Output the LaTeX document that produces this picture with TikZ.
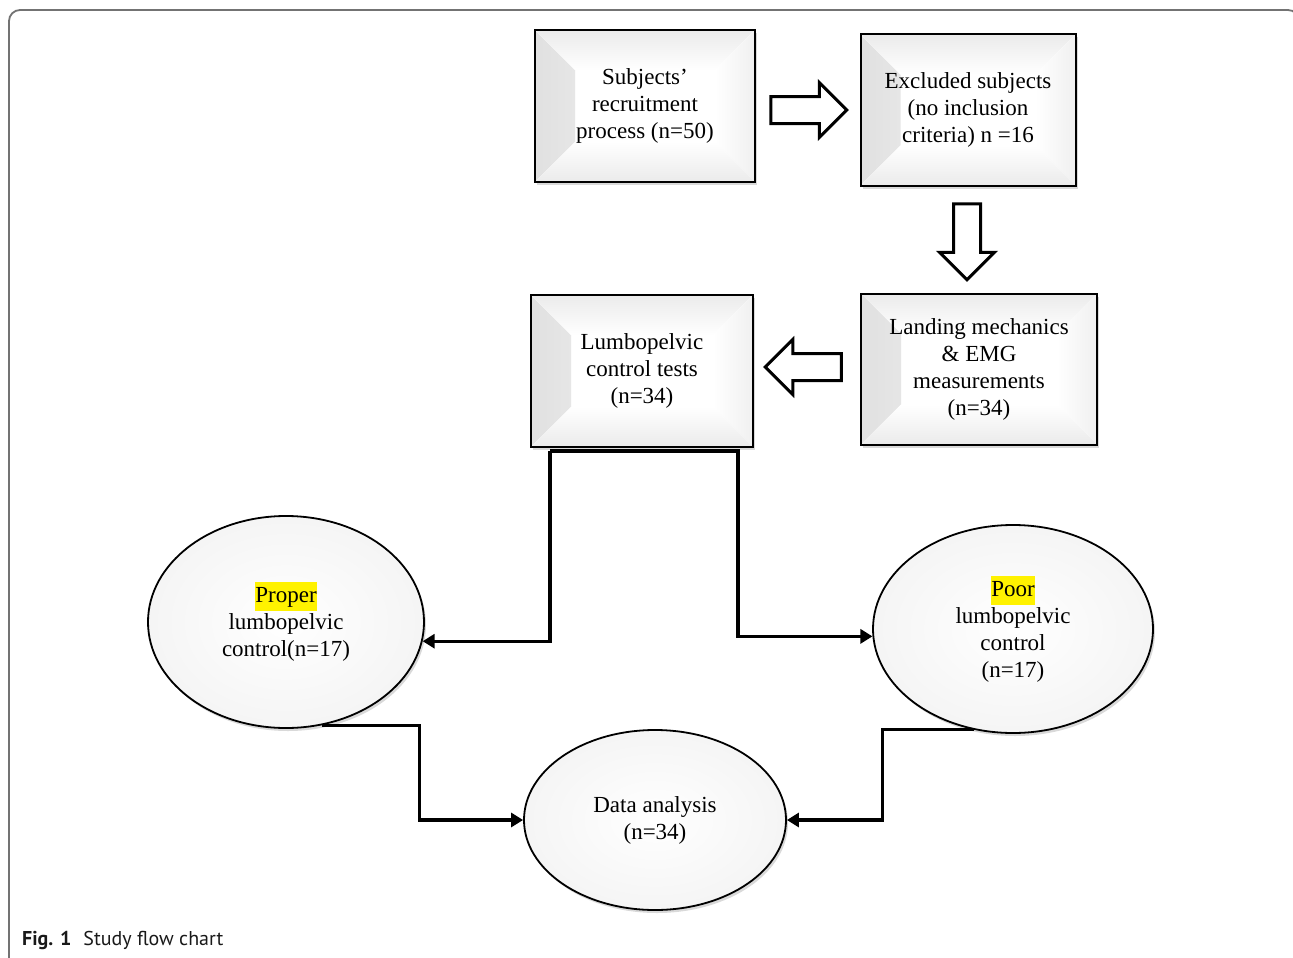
\documentclass[tikz,border=0pt]{standalone}
\usepackage{fontspec}
\setmainfont{Liberation Serif}
\newfontfamily\capfont{PT Sans}
\usetikzlibrary{shapes.geometric,shapes.arrows,shadows,arrows.meta}
\setlength{\fboxsep}{0.5pt}

\newcommand{\hlword}[1]{\colorbox{yellow}{\rule[-8pt]{0pt}{28pt}#1}}
\newcommand{\boxbevel}{%
    \fill[left color=black!12,right color=white] (path picture bounding box.north west) -- (path picture bounding box.south west) -- ([shift={(40pt,40pt)}]path picture bounding box.south west) -- ([shift={(40pt,-40pt)}]path picture bounding box.north west) -- cycle;
    \fill[top color=black!8,bottom color=white] (path picture bounding box.north west) -- (path picture bounding box.north east) -- ([shift={(-40pt,-40pt)}]path picture bounding box.north east) -- ([shift={(40pt,-40pt)}]path picture bounding box.north west) -- cycle;
    \fill[right color=black!6,left color=white] (path picture bounding box.north east) -- (path picture bounding box.south east) -- ([shift={(-40pt,40pt)}]path picture bounding box.south east) -- ([shift={(-40pt,-40pt)}]path picture bounding box.north east) -- cycle;
    \fill[bottom color=black!8,top color=white] (path picture bounding box.south west) -- (path picture bounding box.south east) -- ([shift={(-40pt,40pt)}]path picture bounding box.south east) -- ([shift={(40pt,40pt)}]path picture bounding box.south west) -- cycle;
}

\begin{document}
\begin{tikzpicture}[x=1pt, y=-1pt,
    box/.style={rectangle, draw, line width=2pt, fill=white, align=center,
        font=\fontsize{23}{27}\selectfont, path picture={\boxbevel},
        drop shadow={opacity=0.3, shadow xshift=2pt, shadow yshift=-3pt}},
    oval/.style={ellipse, draw, line width=1.8pt, inner color=white, outer color=black!4,
        align=center, font=\fontsize{23}{27}\selectfont, inner sep=0pt,
        drop shadow={opacity=0.3, shadow xshift=2pt, shadow yshift=-3pt}},
    blockarrow/.style={single arrow, draw, line width=3pt, fill=white, inner sep=12pt,
        single arrow head extend=14pt, minimum height=76pt},
    flow/.style={line width=3.2pt, -{Triangle[length=12pt,width=14pt]}}]
    \useasboundingbox (0,0) rectangle (1293,958);
    \draw[black!55, line width=1.8pt, rounded corners=11pt] (9,975) -- (9,10) -- (1299,10) -- (1299,975);

    \node[box, minimum width=220pt, minimum height=152pt] (subj) at (645,106) {Subjects’\\recruitment\\process (n=50)};
    \node[box, minimum width=215pt, minimum height=151pt] (excl) at (968,110) {Excluded subjects\\(no inclusion\\criteria) n =16};
    \node[box, minimum width=236pt, minimum height=151pt] (land) at (979,369) {Landing mechanics\\\& EMG\\measurements\\(n=34)};
    \node[box, minimum width=222pt, minimum height=152pt] (lptest) at (642,371) {Lumbopelvic\\control tests\\(n=34)};

    \node[blockarrow] (a1) at (802,110) {};
    \node[blockarrow, shape border rotate=270] (a2) at (967,235) {};
    \node[blockarrow, shape border rotate=180] (a3) at (810,367) {};

    \node[oval, minimum width=276pt, minimum height=212pt] (proper) at (286,622) {\hlword{Proper}\\lumbopelvic\\control(n=17)};
    \node[oval, minimum width=280pt, minimum height=208pt] (poor) at (1013,629) {\hlword{Poor}\\lumbopelvic\\control\\(n=17)};
    \node[oval, minimum width=262pt, minimum height=180pt] (data) at (655,820) {Data analysis\\(n=34)};

    \coordinate (sl) at ([xshift=20pt,yshift=-3pt]lptest.south west);
    \coordinate (sr) at ([xshift=-16pt,yshift=-3pt]lptest.south east);
    \draw[flow] (sl) -- (sr) |- (poor.183);
    \draw[flow] (sl) |- (proper.352);
    \draw[flow] (proper.289) -- ++(98pt,0pt) |- (data.west);
    \draw[flow] (poor.249) -- ++(-92pt,0pt) |- (data.east);

    \node[anchor=base west, inner sep=0pt, font=\capfont\fontsize{20}{24}\selectfont, text=black!90] (caption) at (22,945) {\textbf{Fig. 1}\hspace{12pt}Study flow chart};
\end{tikzpicture}
\end{document}
